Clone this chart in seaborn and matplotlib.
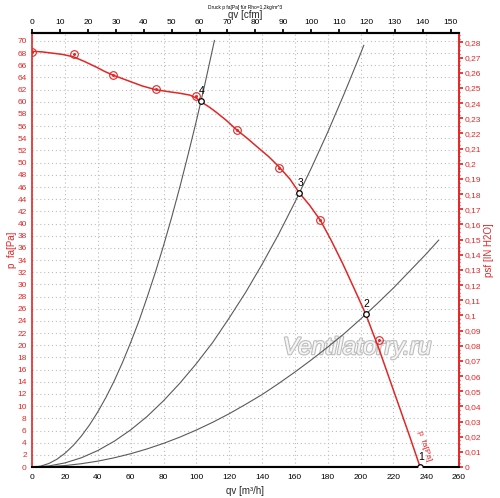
import matplotlib
matplotlib.use("Agg")
import matplotlib.pyplot as plt
import matplotlib.patheffects as pe
from matplotlib.ticker import MultipleLocator, FuncFormatter
import seaborn as sns

# fan curve p fa [Pa] over qv [m3/h]
fan_q = [0, 6, 12, 18, 25, 32, 39, 44, 49, 55, 60, 67, 75, 82, 90, 96, 100,
         104, 108, 112, 118, 124.5, 131, 137, 144, 150.4, 157, 162.8, 169,
         175.6, 182, 189, 196, 203.2, 211.1, 218, 224, 230, 236.3]
fan_p = [68.3, 68.2, 68.0, 67.8, 67.4, 66.6, 65.7, 65.0, 64.4, 63.8, 63.3,
         62.6, 62.0, 61.7, 61.4, 61.1, 60.6, 59.8, 59.1, 58.3, 57.0, 55.4,
         54.0, 52.6, 51.0, 49.3, 47.3, 45.0, 43.0, 40.5, 37.3, 33.5, 29.4,
         25.1, 19.5, 14.2, 9.6, 5.0, 0.0]

# measured points on the fan curve
mark_q = [0, 25.6, 49.3, 75.3, 99.5, 124.5, 150.4, 175.6, 211.1]
mark_p = [68.2, 67.8, 64.4, 62.1, 61.0, 55.4, 49.2, 40.5, 20.8]

# system curves
sys4_q = [0, 5, 10, 15, 20, 25, 30, 35, 40, 45, 50, 55, 60, 65, 70, 75, 80,
          85, 90, 95, 100, 105, 111]
sys4_p = [0, 0.14, 0.57, 1.28, 2.28, 3.56, 5.12, 6.97, 9.10, 11.5, 14.2, 17.2,
          20.5, 24.0, 27.9, 32.0, 36.4, 41.1, 46.1, 51.4, 56.9, 62.7, 70.1]
sys3_q = [0, 10, 20, 30, 40, 50, 60, 70, 80, 90, 100, 110, 120, 130, 140, 150,
          160, 170, 180, 190, 200, 202]
sys3_p = [0, 0.17, 0.68, 1.53, 2.72, 4.25, 6.11, 8.32, 10.9, 13.8, 17.0, 20.5,
          24.5, 28.7, 33.3, 38.2, 43.5, 49.1, 55.0, 61.3, 67.9, 69.3]
sys2_q = [0, 10, 20, 30, 40, 50, 60, 70, 80, 90, 100, 110, 120, 130, 140, 150,
          160, 170, 180, 190, 200, 210, 220, 230, 240, 247.7]
sys2_p = [0, 0.06, 0.24, 0.55, 0.97, 1.52, 2.19, 2.98, 3.89, 4.92, 6.08, 7.36,
          8.76, 10.3, 11.9, 13.7, 15.6, 17.6, 19.7, 21.9, 24.3, 26.8, 29.4,
          32.2, 35.0, 37.3]
sys1_q = [0, 236.3]
sys1_p = [0, 0]

# operating points
op_q = [236.3, 203.2, 162.8, 102.6]
op_p = [0, 25.1, 45.0, 60.1]
op_labels = ["1", "2", "3", "4"]

RED = "#e32626"
GRAY = "#5a5a5a"

sns.set_theme(style="white")
plt.rcParams["font.family"] = ["Liberation Sans", "DejaVu Sans"]

fig, ax = plt.subplots(figsize=(5, 4.98), dpi=100)
fig.subplots_adjust(left=0.0646, right=0.918, bottom=0.0622, top=0.9337)

# watermark
ax.text(0.761, 0.275, "Ventilatorry.ru", transform=ax.transAxes, fontsize=17.5,
        style="italic", color="#f6f6f6", ha="center", va="center", zorder=1,
        path_effects=[pe.withStroke(linewidth=1.6, foreground="#bdbdbd")])

for q, p in [(sys4_q, sys4_p), (sys3_q, sys3_p), (sys2_q, sys2_p)]:
    sns.lineplot(x=q, y=p, ax=ax, color=GRAY, linewidth=0.8, sort=False,
                 estimator=None, zorder=3)
sns.lineplot(x=sys1_q, y=sys1_p, ax=ax, color="black", linewidth=1.5,
             sort=False, estimator=None, zorder=3)

sns.lineplot(x=fan_q, y=fan_p, ax=ax, color=RED, linewidth=1.1, sort=False,
             estimator=None, zorder=4)
sns.lineplot(x=mark_q, y=mark_p, ax=ax, marker="o", linestyle="", markersize=5.5,
             markerfacecolor="none", markeredgecolor=RED, markeredgewidth=0.8,
             estimator=None, zorder=5)
sns.lineplot(x=mark_q, y=mark_p, ax=ax, marker="o", linestyle="", markersize=1.4,
             markerfacecolor=RED, markeredgecolor=RED, estimator=None, zorder=5)

sns.lineplot(x=op_q, y=op_p, ax=ax, marker="o", linestyle="", markersize=4,
             markerfacecolor="white", markeredgecolor="black", markeredgewidth=0.9,
             estimator=None, zorder=6)
for q, p, lab in zip(op_q, op_p, op_labels):
    ax.annotate(lab, (q, p), xytext=(0.5, 3.5), textcoords="offset points",
                ha="center", va="bottom", fontsize=7.5, color="black", zorder=7)

ax.text(238.5, 3.4, "p  fa[Pa]", rotation=-72, rotation_mode="anchor", fontsize=6,
        color=RED, ha="center", va="center", zorder=7)

ax.set_xlim(0, 260)
ax.set_ylim(0, 71.3)
ax.xaxis.set_major_locator(MultipleLocator(20))
ax.yaxis.set_major_locator(MultipleLocator(2))
ax.yaxis.set_minor_locator(MultipleLocator(0.5))
ax.grid(True, which="major", color="#bdbdbd", linestyle=(0, (1, 2.5)), linewidth=0.8)
ax.set_axisbelow(True)

ax.tick_params(axis="x", which="major", labelsize=6, colors="black", length=3,
               direction="out", pad=2)
ax.tick_params(axis="y", which="major", labelsize=6, colors=RED, length=3,
               direction="out", pad=1)
ax.tick_params(axis="y", which="minor", colors=RED, length=2, direction="inout")

ax.spines["left"].set_color(RED)
ax.spines["left"].set_linewidth(1.2)
ax.spines["right"].set_color(RED)
ax.spines["right"].set_linewidth(1.2)
ax.spines["top"].set_color("black")
ax.spines["top"].set_linewidth(1.5)
ax.spines["bottom"].set_color("black")
ax.spines["bottom"].set_linewidth(1.5)

ax.set_xlabel("qv [m³/h]", fontsize=7)
ax.xaxis.set_label_coords(0.499, -0.044)
ax.set_ylabel("p  fa[Pa]", fontsize=7, color=RED)
ax.yaxis.set_label_coords(-0.036, 0.5)

# top axis in cfm
top = ax.secondary_xaxis("top", functions=(lambda v: v / 1.699, lambda v: v * 1.699))
top.xaxis.set_major_locator(MultipleLocator(10))
top.tick_params(labelsize=6, length=3, colors="black", pad=2)
top.spines["top"].set_color("black")
top.spines["top"].set_linewidth(1.5)
top.set_xlabel("qv [cfm]", fontsize=7, labelpad=1)

# right axis in IN H2O
right = ax.secondary_yaxis("right", functions=(lambda v: v / 249.09, lambda v: v * 249.09))
right.yaxis.set_major_locator(MultipleLocator(0.01))
right.yaxis.set_minor_locator(MultipleLocator(0.0025))


def in_fmt(v, pos):
    s = f"{v:.2f}".rstrip("0").rstrip(".")
    return s.replace(".", ",")


right.yaxis.set_major_formatter(FuncFormatter(in_fmt))
right.tick_params(which="major", labelsize=6, colors=RED, length=3, pad=1)
right.tick_params(which="minor", colors=RED, length=2, direction="inout")
right.spines["right"].set_color(RED)
right.spines["right"].set_linewidth(1.2)
right.set_ylabel("psf [IN H2O]", fontsize=7, color=RED, labelpad=2)

fig.text(0.49, 0.984, "Druck p fa[Pa] für Rho=1,2kg/m^3", fontsize=3.5,
         ha="center", va="center", color="black")

fig.savefig("out.png", dpi=100)
